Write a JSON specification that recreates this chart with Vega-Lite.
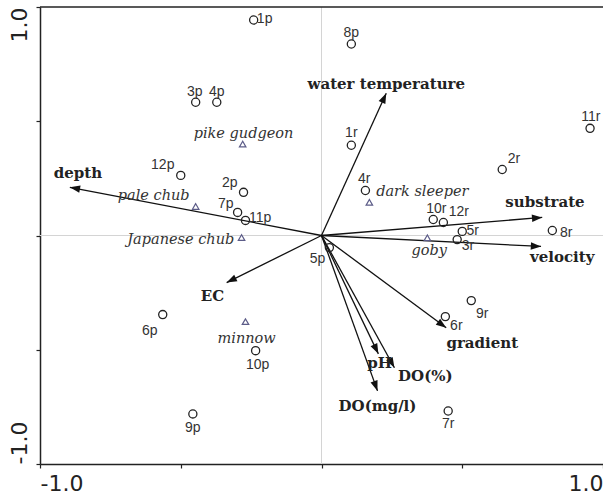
{
  "$schema": "https://vega.github.io/schema/vega-lite/v6.json",
  "width": 563,
  "height": 457,
  "autosize": "none",
  "padding": {"left": 40, "top": 7, "right": 0, "bottom": 31},
  "background": "white",
  "config": {"view": {"stroke": null}},
  "datasets": {
    "sites": [
      {"id": "1p", "x": -0.241, "y": 0.943, "lx": -0.202, "ly": 0.947},
      {"id": "8p", "x": 0.106, "y": 0.838, "lx": 0.106, "ly": 0.886},
      {"id": "3p", "x": -0.447, "y": 0.583, "lx": -0.45, "ly": 0.627},
      {"id": "4p", "x": -0.372, "y": 0.583, "lx": -0.372, "ly": 0.627},
      {"id": "12p", "x": -0.5, "y": 0.263, "lx": -0.564, "ly": 0.307},
      {"id": "2p", "x": -0.277, "y": 0.189, "lx": -0.326, "ly": 0.228},
      {"id": "7p", "x": -0.298, "y": 0.101, "lx": -0.34, "ly": 0.14},
      {"id": "11p", "x": -0.27, "y": 0.066, "lx": -0.218, "ly": 0.075},
      {"id": "6p", "x": -0.564, "y": -0.346, "lx": -0.61, "ly": -0.417},
      {"id": "10p", "x": -0.234, "y": -0.504, "lx": -0.227, "ly": -0.566},
      {"id": "9p", "x": -0.457, "y": -0.781, "lx": -0.457, "ly": -0.842},
      {"id": "5p", "x": 0.028, "y": -0.053, "lx": -0.014, "ly": -0.101},
      {"id": "1r", "x": 0.106, "y": 0.395, "lx": 0.106, "ly": 0.447},
      {"id": "4r", "x": 0.156, "y": 0.197, "lx": 0.152, "ly": 0.246},
      {"id": "2r", "x": 0.642, "y": 0.289, "lx": 0.684, "ly": 0.333},
      {"id": "11r", "x": 0.954, "y": 0.469, "lx": 0.957, "ly": 0.518},
      {"id": "10r", "x": 0.397, "y": 0.07, "lx": 0.408, "ly": 0.114},
      {"id": "12r", "x": 0.433, "y": 0.057, "lx": 0.488, "ly": 0.101},
      {"id": "5r", "x": 0.5, "y": 0.018, "lx": 0.537, "ly": 0.02},
      {"id": "3r", "x": 0.482, "y": -0.018, "lx": 0.52, "ly": -0.045},
      {"id": "8r", "x": 0.82, "y": 0.022, "lx": 0.869, "ly": 0.013},
      {"id": "9r", "x": 0.532, "y": -0.285, "lx": 0.571, "ly": -0.342},
      {"id": "6r", "x": 0.44, "y": -0.355, "lx": 0.479, "ly": -0.395},
      {"id": "7r", "x": 0.45, "y": -0.768, "lx": 0.45, "ly": -0.825}
    ],
    "species": [
      {"name": "pike gudgeon", "x": -0.28, "y": 0.4, "lx": -0.277, "ly": 0.443},
      {"name": "pale chub", "x": -0.447, "y": 0.127, "lx": -0.596, "ly": 0.175},
      {"name": "Japanese chub", "x": -0.284, "y": -0.009, "lx": -0.5, "ly": -0.018},
      {"name": "dark sleeper", "x": 0.17, "y": 0.145, "lx": 0.358, "ly": 0.189},
      {"name": "goby", "x": 0.376, "y": -0.01, "lx": 0.383, "ly": -0.066},
      {"name": "minnow", "x": -0.27, "y": -0.377, "lx": -0.266, "ly": -0.452}
    ],
    "env": [
      {"var": "depth", "x": -0.894, "y": 0.211, "lx": -0.865, "ly": 0.272},
      {"var": "water temperature", "x": 0.23, "y": 0.623, "lx": 0.23, "ly": 0.662},
      {"var": "substrate", "x": 0.784, "y": 0.079, "lx": 0.794, "ly": 0.145},
      {"var": "velocity", "x": 0.78, "y": -0.048, "lx": 0.855, "ly": -0.096},
      {"var": "EC", "x": -0.337, "y": -0.206, "lx": -0.387, "ly": -0.263},
      {"var": "gradient", "x": 0.443, "y": -0.404, "lx": 0.571, "ly": -0.47},
      {"var": "pH", "x": 0.202, "y": -0.518, "lx": 0.206, "ly": -0.557},
      {"var": "DO(%)", "x": 0.259, "y": -0.579, "lx": 0.369, "ly": -0.614},
      {"var": "DO(mg/l)", "x": 0.199, "y": -0.68, "lx": 0.199, "ly": -0.746}
    ],
    "refs": [{"zero": 0, "top": 1}]
  },
  "layer": [
    {
      "data": {"name": "refs"},
      "mark": {"type": "rule", "color": "#d4d4d4", "strokeWidth": 1},
      "encoding": {"x": {"field": "zero", "type": "quantitative",
          "scale": {"domain": [-1, 1], "nice": false, "zero": false},
          "axis": {"title": null, "values": [-1, -0.5, 0, 0.5, 1], "grid": false,
            "domainColor": "#222", "domainWidth": 1.5, "tickColor": "#222", "tickSize": 4, "tickWidth": 1.2,
            "labelExpr": "datum.value == -1 ? '-1.0' : (datum.value == 1 ? '1.0' : '')",
            "labelFlush": true, "labelFont": "DejaVu Sans", "labelFontSize": 22, "labelColor": "#222", "labelPadding": 5}}}
    },
    {
      "data": {"name": "refs"},
      "mark": {"type": "rule", "color": "#d4d4d4", "strokeWidth": 1},
      "encoding": {"y": {"field": "zero", "type": "quantitative",
          "scale": {"domain": [-1, 1], "nice": false, "zero": false},
          "axis": {"title": null, "values": [-1, -0.5, 0, 0.5, 1], "grid": false,
            "domainColor": "#222", "domainWidth": 1.5, "tickColor": "#222", "tickSize": 4, "tickWidth": 1.2,
            "labelExpr": "datum.value == -1 ? '-1.0' : (datum.value == 1 ? '1.0' : '')",
            "labelAngle": 270,
            "labelAlign": {"expr": "datum.value > 0 ? 'right' : 'left'"},
            "labelBaseline": "bottom",
            "labelFont": "DejaVu Sans", "labelFontSize": 22, "labelColor": "#222", "labelPadding": 5}}}
    },
    {
      "data": {"name": "refs"},
      "mark": {"type": "rule", "color": "#222", "strokeWidth": 1.5},
      "encoding": {"y": {"field": "top", "type": "quantitative"}}
    },
    {
      "data": {"name": "env"},
      "mark": {"type": "rule", "color": "#111", "strokeWidth": 1.3},
      "encoding": {
        "x": {"field": "x", "type": "quantitative"},
        "y": {"field": "y", "type": "quantitative"},
        "x2": {"datum": 0},
        "y2": {"datum": 0}
      }
    },
    {
      "data": {"name": "env"},
      "transform": [{"calculate": "atan2(datum.x * 282, datum.y * 228) * 180 / PI", "as": "ang"}],
      "mark": {"type": "point", "shape": "M0,0L-0.36,1L0.36,1Z", "filled": true, "color": "#111", "size": 420, "opacity": 1},
      "encoding": {
        "x": {"field": "x", "type": "quantitative"},
        "y": {"field": "y", "type": "quantitative"},
        "angle": {"field": "ang", "type": "quantitative", "scale": null}
      }
    },
    {
      "data": {"name": "env"},
      "mark": {"type": "text", "font": "DejaVu Serif", "fontWeight": "bold", "fontSize": 15, "color": "#222", "align": "center", "baseline": "middle"},
      "encoding": {
        "x": {"field": "lx", "type": "quantitative"},
        "y": {"field": "ly", "type": "quantitative"},
        "text": {"field": "var"}
      }
    },
    {
      "data": {"name": "sites"},
      "mark": {"type": "point", "shape": "circle", "filled": false, "color": "#222", "size": 66, "strokeWidth": 1.3, "opacity": 1},
      "encoding": {
        "x": {"field": "x", "type": "quantitative"},
        "y": {"field": "y", "type": "quantitative"}
      }
    },
    {
      "data": {"name": "sites"},
      "mark": {"type": "text", "font": "Liberation Sans", "fontSize": 14, "color": "#333", "align": "center", "baseline": "middle"},
      "encoding": {
        "x": {"field": "lx", "type": "quantitative"},
        "y": {"field": "ly", "type": "quantitative"},
        "text": {"field": "id"}
      }
    },
    {
      "data": {"name": "species"},
      "mark": {"type": "point", "shape": "triangle-up", "filled": false, "color": "#5c5c88", "size": 42, "strokeWidth": 1.2, "opacity": 1},
      "encoding": {
        "x": {"field": "x", "type": "quantitative"},
        "y": {"field": "y", "type": "quantitative"}
      }
    },
    {
      "data": {"name": "species"},
      "mark": {"type": "text", "font": "DejaVu Serif", "fontStyle": "italic", "fontSize": 14.5, "color": "#333", "align": "center", "baseline": "middle"},
      "encoding": {
        "x": {"field": "lx", "type": "quantitative"},
        "y": {"field": "ly", "type": "quantitative"},
        "text": {"field": "name"}
      }
    }
  ]
}
